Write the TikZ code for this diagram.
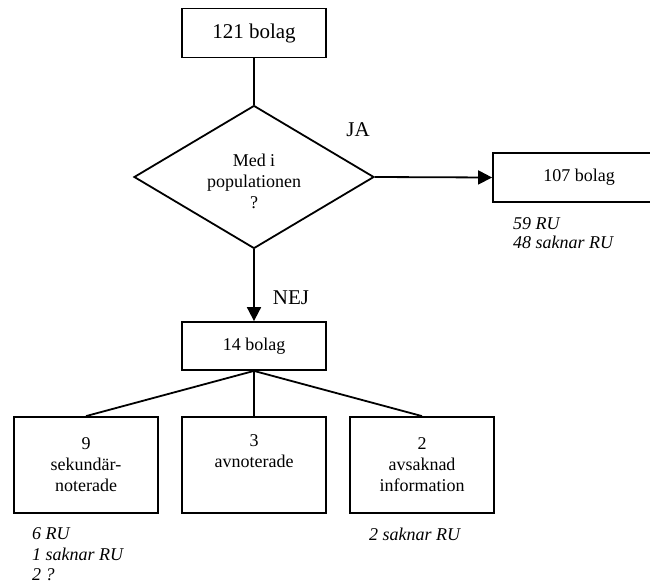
\documentclass[tikz,border=0pt]{standalone}
\usepackage{fontspec}
\setmainfont{Liberation Serif}
\usetikzlibrary{shapes.geometric,arrows.meta}
\begin{document}
\begin{tikzpicture}[x=1pt,y=-1pt,
  box/.style={draw,line width=1.8pt,rectangle,inner sep=0pt,align=center},
  conn/.style={line width=1.8pt},
  arr/.style={line width=1.8pt,-{Triangle[length=14pt,width=14pt]}},
  big/.style={font=\fontsize{21}{24}\selectfont},
  mid/.style={font=\fontsize{18}{21}\selectfont},
  note/.style={font=\fontsize{18}{21}\selectfont\itshape,inner sep=0pt,anchor=base west}
]
\clip (0,0) rectangle (650,584);
\fill[white] (0,0) rectangle (650,584);

% top box
\node[box,big,minimum width=144pt,minimum height=49pt] (n121) at (254,33) {121 bolag};

% decision
\node[diamond,draw,line width=1.8pt,minimum width=240pt,minimum height=143pt,aspect=1.68,inner sep=0pt] (q) at (254,177) {};
\node[mid,align=center,inner sep=0pt] (qt) at (254,181) {Med i\\populationen\\?};

% right branch
\node[box,mid,minimum width=172pt,minimum height=49pt] (n107) at (579,177.5) {107 bolag};
\node[note] (r1) at (513,229) {59 RU};
\node[note] (r2) at (513,248) {48 saknar RU};
\node[big,inner sep=0pt] (ja) at (358,130) {JA};

% down branch
\node[box,mid,minimum width=144pt,minimum height=48pt] (n14) at (254,346) {14 bolag};
\node[big,inner sep=0pt] (nej) at (291,298) {NEJ};

% bottom boxes
\node[box,mid,minimum width=144pt,minimum height=96pt] (b1) at (86,465) {9\\sekundär-\\noterade};
\node[box,mid,minimum width=144pt,minimum height=96pt] (b2) at (254,465) {3\\avnoterade\\\strut};
\node[box,mid,minimum width=144pt,minimum height=96pt] (b3) at (422,465) {2\\avsaknad\\information};

% notes below
\node[note] (l1) at (32,539) {6 RU};
\node[note] (l2) at (32,560) {1 saknar RU};
\node[note] (l3) at (32,580) {2 ?};
\node[note] (m1) at (369,540) {2 saknar RU};

% connectors
\draw[conn] (n121.south) -- (q.north);
\draw[arr] (q.east) -- (n107.west);
\draw[arr] (q.south) -- (n14.north);
\draw[conn] (n14.south) -- (b1.north);
\draw[conn] (n14.south) -- (b2.north);
\draw[conn] (n14.south) -- (b3.north);
\end{tikzpicture}
\end{document}
